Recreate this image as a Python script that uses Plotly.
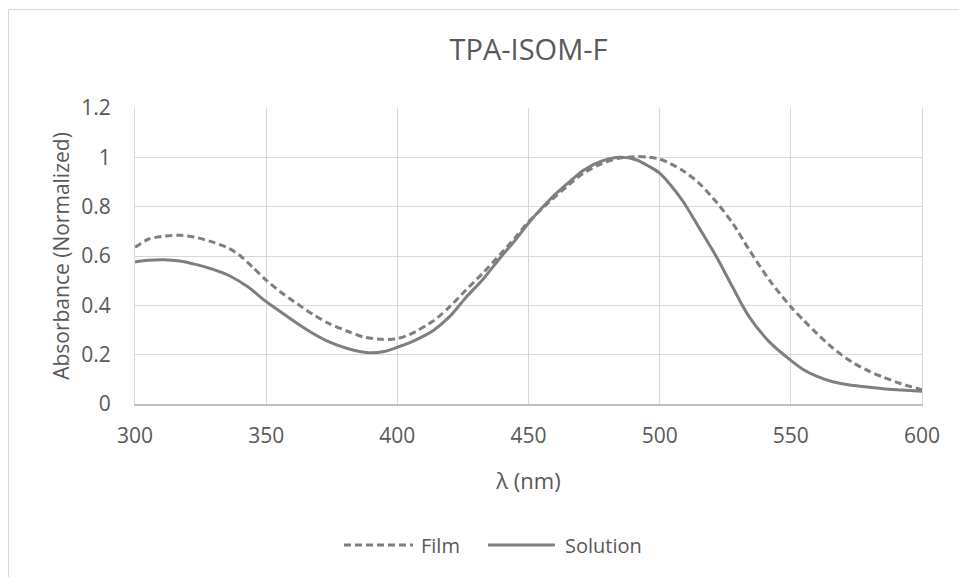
import plotly.graph_objects as go

# Data
wl_solution = [300, 305, 311, 317, 323.5, 330, 336, 343, 350, 356, 362, 368, 374, 381, 389, 395, 400, 405,
               410, 414, 420, 426, 433, 439, 445, 450, 458, 465, 471, 478, 485, 491, 496, 500, 504, 509, 515,
               522, 528, 534, 542, 550, 555, 560, 566, 573, 580, 585, 592, 600]
abs_solution = [0.576, 0.583, 0.585, 0.580, 0.565, 0.545, 0.520, 0.475, 0.415, 0.370, 0.325, 0.285, 0.252,
                0.225, 0.208, 0.213, 0.230, 0.250, 0.275, 0.300, 0.355, 0.430, 0.510, 0.590, 0.665, 0.733,
                0.827, 0.895, 0.948, 0.985, 1.000, 0.990, 0.963, 0.936, 0.890, 0.820, 0.715, 0.590, 0.470,
                0.355, 0.250, 0.177, 0.138, 0.112, 0.090, 0.076, 0.068, 0.062, 0.057, 0.052]

wl_film = [300, 305, 311, 317, 323, 330, 336, 340, 345, 350, 356, 362, 368, 374, 381, 387, 394, 400, 405,
           414, 420, 426, 433, 439, 445, 450, 458, 465, 471, 478, 485, 491, 496, 500, 504, 509, 515, 522,
           528, 534, 542, 550, 555, 560, 566, 573, 580, 585, 592, 600]
abs_film = [0.635, 0.668, 0.680, 0.684, 0.676, 0.655, 0.630, 0.602, 0.553, 0.502, 0.450, 0.405, 0.362,
            0.326, 0.295, 0.272, 0.262, 0.265, 0.283, 0.339, 0.395, 0.460, 0.535, 0.604, 0.675, 0.739,
            0.820, 0.885, 0.936, 0.975, 0.997, 1.003, 1.000, 0.993, 0.975, 0.945, 0.895, 0.814, 0.730,
            0.627, 0.500, 0.394, 0.338, 0.285, 0.227, 0.172, 0.132, 0.110, 0.082, 0.058]

series_names = ["Film", "Solution"]
x_ticks = [300, 350, 400, 450, 500, 550, 600]
y_ticks = [0, 0.2, 0.4, 0.6, 0.8, 1, 1.2]
y_tick_text = ["0", "0.2", "0.4", "0.6", "0.8", "1", "1.2"]

LINE = "#7f7f7f"
TEXT = "#595959"
GRID = "#d9d9d9"
FONT = "Open Sans"
DASH = "7px,4px"

fig = go.Figure()
fig.add_trace(go.Scatter(x=wl_film, y=abs_film, mode="lines", name=series_names[0], showlegend=False,
                         line=dict(color=LINE, width=3, dash=DASH, shape="spline", smoothing=0.8)))
fig.add_trace(go.Scatter(x=wl_solution, y=abs_solution, mode="lines", name=series_names[1], showlegend=False,
                         line=dict(color=LINE, width=3, shape="spline", smoothing=0.8)))

L, R, T, B = 135, 922, 108, 404
W, H = 959, 577
pw, ph = R - L, B - T

def px_x(px):
    return (px - L) / pw

def px_y(py):
    return (B - py) / ph

# chart area border
fig.add_shape(type="rect", xref="paper", yref="paper",
              x0=px_x(8.5), x1=px_x(W + 10), y0=px_y(H + 10), y1=px_y(9.5),
              line=dict(color="#d9d9d9", width=1), fillcolor="rgba(0,0,0,0)", layer="below")

# legend (drawn manually to match sample lengths)
LEG_Y = 545
fig.add_shape(type="line", xref="paper", yref="paper", x0=px_x(344), x1=px_x(413), y0=px_y(LEG_Y), y1=px_y(LEG_Y),
              line=dict(color=LINE, width=3, dash=DASH))
fig.add_annotation(xref="paper", yref="paper", x=px_x(419), y=px_y(LEG_Y), xanchor="left", yanchor="middle",
                   text=series_names[0], showarrow=False, font=dict(family=FONT, size=20, color=TEXT))
fig.add_shape(type="line", xref="paper", yref="paper", x0=px_x(488), x1=px_x(555), y0=px_y(LEG_Y), y1=px_y(LEG_Y),
              line=dict(color=LINE, width=3))
fig.add_annotation(xref="paper", yref="paper", x=px_x(563), y=px_y(LEG_Y), xanchor="left", yanchor="middle",
                   text=series_names[1], showarrow=False, font=dict(family=FONT, size=20, color=TEXT))

fig.update_layout(
    width=W, height=H,
    margin=dict(l=L, r=W - R, t=T, b=H - B),
    paper_bgcolor="white", plot_bgcolor="white",
    title=dict(text="TPA-ISOM-F", x=(L + R) / 2 / W, xanchor="center", y=1 - 50 / H, yanchor="middle",
               font=dict(family=FONT, size=29, color=TEXT)),
    font=dict(family=FONT, color=TEXT),
    showlegend=False,
    xaxis=dict(range=[300, 600], tickvals=x_ticks, showgrid=True, gridcolor=GRID, gridwidth=1,
               showline=True, linecolor="#bfbfbf", linewidth=1.5, zeroline=False, ticks="",
               ticklabelstandoff=12,
               tickfont=dict(family=FONT, size=21, color=TEXT),
               title=dict(text="λ (nm)", font=dict(family=FONT, size=22, color=TEXT), standoff=26)),
    yaxis=dict(range=[0, 1.2], tickvals=y_ticks, ticktext=y_tick_text, showgrid=True, gridcolor=GRID,
               gridwidth=1, showline=True, mirror=True, linecolor=GRID, linewidth=1, zeroline=False,
               ticks="", ticklabelstandoff=19,
               tickfont=dict(family=FONT, size=21, color=TEXT),
               title=dict(text="Absorbance (Normalized)", font=dict(family=FONT, size=21, color=TEXT),
                          standoff=5)),
)

fig.write_html("out.html")
